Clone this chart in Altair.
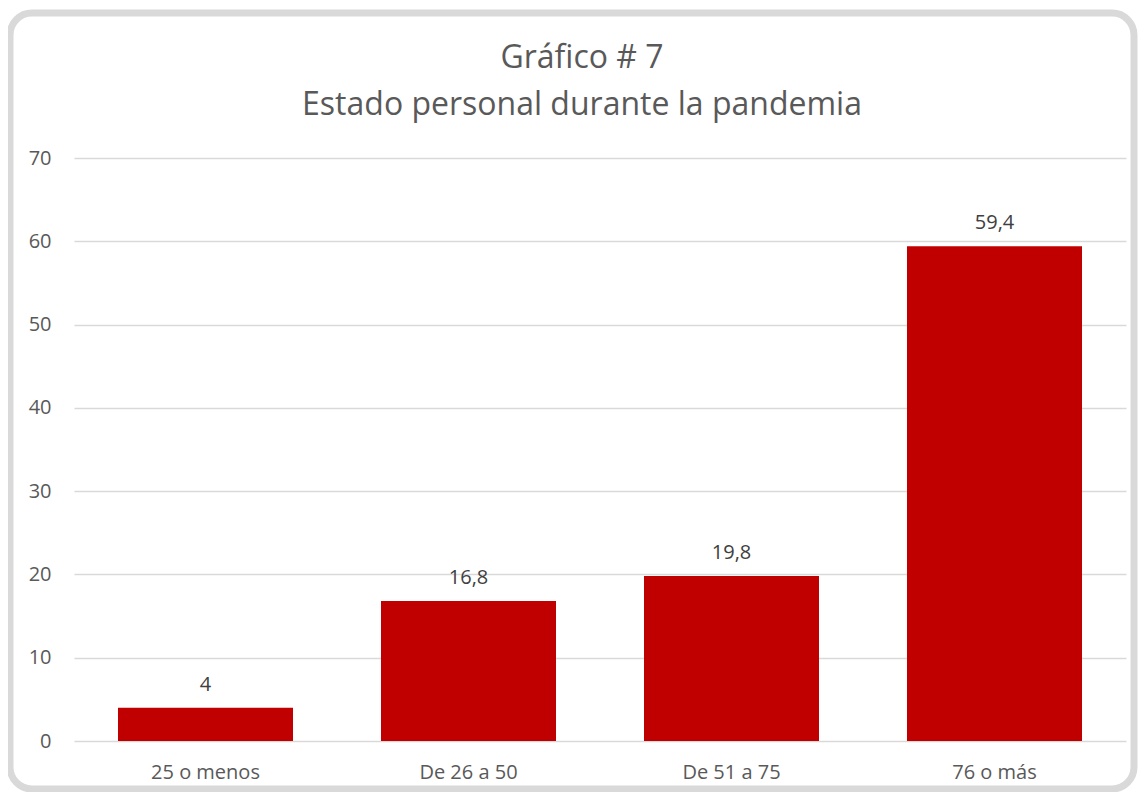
import altair as alt
import pandas as pd

categories = ["25 o menos", "De 26 a 50", "De 51 a 75", "76 o más"]
values = [4, 16.8, 19.8, 59.4]
labels = ["4", "16,8", "19,8", "59,4"]
title_lines = ["Gráfico # 7", "Estado personal durante la pandemia"]

df = pd.DataFrame({"cat": categories, "val": values, "lab": labels})

FONT = "Open Sans"
W, H = 1052, 583

x_enc = alt.X("cat:N", sort=categories, title=None,
              scale=alt.Scale(paddingInner=0.3346, paddingOuter=0.1673),
              axis=alt.Axis(labelAngle=0, ticks=False, domain=False, labelPadding=21,
                            labelFontSize=20, labelColor="#595959", labelFont=FONT, grid=False))
y_enc = alt.Y("val:Q", title=None,
              scale=alt.Scale(domain=[0, 70], nice=False),
              axis=alt.Axis(values=[0, 10, 20, 30, 40, 50, 60, 70], ticks=False, domain=False,
                            labelPadding=23, labelFontSize=20, labelColor="#595959", labelFont=FONT,
                            gridColor="#D9D9D9", gridWidth=1.3))

bars = alt.Chart(df).mark_bar(color="#C00000").encode(x=x_enc, y=y_enc)
text = alt.Chart(df).mark_text(baseline="bottom", dy=-13, fontSize=20, font=FONT,
                               color="#404040").encode(
    x=alt.X("cat:N", sort=categories), y="val:Q", text="lab:N")

border = alt.Chart(alt.Data(values=[{"a": 1}])).mark_rect(
    fill="transparent", stroke="#D9D9D9", strokeWidth=7, cornerRadius=22, clip=False
).encode(x=alt.value(-64), x2=alt.value(1060), y=alt.value(-145), y2=alt.value(631))

title1 = alt.Chart(alt.Data(values=[{"t": title_lines[0]}])).mark_text(
    fontSize=32, font=FONT, color="#595959", baseline="middle", clip=False
).encode(x=alt.value(508), y=alt.value(-100), text="t:N")
title2 = alt.Chart(alt.Data(values=[{"t": title_lines[1]}])).mark_text(
    fontSize=32, font=FONT, color="#595959", baseline="middle", clip=False
).encode(x=alt.value(508), y=alt.value(-53), text="t:N")

chart = alt.layer(border, bars, text, title1, title2).properties(
    width=W, height=H,
    autosize=alt.AutoSizeParams(type="none"),
    padding={"left": 66, "top": 150, "right": 12, "bottom": 51},
).configure(background="white").configure_view(strokeWidth=0, stroke="transparent")

chart.save("out.html", embed_options={"renderer": "svg", "actions": False})
